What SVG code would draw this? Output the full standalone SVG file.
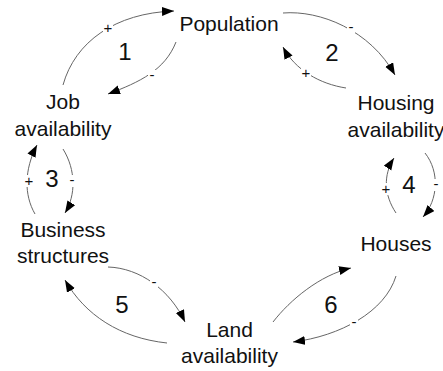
<svg xmlns="http://www.w3.org/2000/svg" width="443" height="371" viewBox="0 0 443 371">
<style>
.n{font-family:"Liberation Sans",Arial,sans-serif;font-size:21px;fill:#111;text-anchor:middle}
.num{font-family:"Liberation Sans",Arial,sans-serif;font-size:24px;fill:#111;text-anchor:middle}
.s{font-family:"Liberation Sans",Arial,sans-serif;font-size:15px;fill:#111;text-anchor:middle}
.bg{fill:#fff}
.c{fill:none;stroke:#666;stroke-width:1}
</style>
<defs>
<marker id="ah" markerUnits="userSpaceOnUse" markerWidth="13" markerHeight="10" refX="12" refY="4.5" orient="auto">
<path d="M0,0 L12,4.5 L0,9 z" fill="#000"/>
</marker>
</defs>
<rect width="443" height="371" fill="#fff"/>
<g id="connectors">
<path class="c" d="M63,85 C75,42 115,13 174,11" marker-end="url(#ah)"/>
<path class="c" d="M176,42 C165,70 140,82 108,94" marker-end="url(#ah)"/>
<path class="c" d="M283,13 C320,10 370,30 395,75" marker-end="url(#ah)"/>
<path class="c" d="M346,88 C320,84 295,70 283,47" marker-end="url(#ah)"/>
<path class="c" d="M35,214 C24,195 24,170 37,145" marker-end="url(#ah)"/>
<path class="c" d="M63,149 C76,170 76,195 65,213" marker-end="url(#ah)"/>
<path class="c" d="M396,213 C384,195 383,175 394,158" marker-end="url(#ah)"/>
<path class="c" d="M425,153 C440,172 438,200 423,217" marker-end="url(#ah)"/>
<path class="c" d="M108,267 C140,268 170,290 185,322" marker-end="url(#ah)"/>
<path class="c" d="M167,343 C120,338 85,315 65,280" marker-end="url(#ah)"/>
<path class="c" d="M273,322 C290,300 320,275 351,268" marker-end="url(#ah)"/>
<path class="c" d="M396,276 C385,312 340,336 293,342" marker-end="url(#ah)"/>
</g>
<g id="signs">
<rect class="bg" x="103" y="22" width="10" height="12"/><text class="s" x="108" y="33">+</text>
<rect class="bg" x="148" y="70" width="8" height="12"/><text class="s" x="152" y="80">-</text>
<rect class="bg" x="347" y="22" width="8" height="12"/><text class="s" x="351" y="32">-</text>
<rect class="bg" x="301" y="67" width="10" height="12"/><text class="s" x="306" y="78">+</text>
<rect class="bg" x="24" y="175" width="10" height="12"/><text class="s" x="29" y="186">+</text>
<rect class="bg" x="68" y="175" width="8" height="12"/><text class="s" x="72" y="185">-</text>
<rect class="bg" x="381" y="183" width="10" height="12"/><text class="s" x="386" y="194">+</text>
<rect class="bg" x="432" y="179" width="8" height="12"/><text class="s" x="436" y="189">-</text>
<rect class="bg" x="150" y="277" width="8" height="12"/><text class="s" x="154" y="287">-</text>
<rect class="bg" x="350" y="317" width="8" height="12"/><text class="s" x="354" y="327">-</text>
</g>
<g id="loop-numbers">
<text class="num" x="125" y="60">1</text>
<text class="num" x="332" y="61">2</text>
<text class="num" x="52" y="187">3</text>
<text class="num" x="409" y="193">4</text>
<text class="num" x="122" y="313">5</text>
<text class="num" x="331" y="313">6</text>
</g>
<g id="population"><text class="n" x="229" y="31">Population</text></g>
<g id="job-availability"><text class="n" x="63" y="109">Job</text><text class="n" x="63" y="136">availability</text></g>
<g id="housing-availability"><text class="n" x="396" y="110">Housing</text><text class="n" x="396" y="137">availability</text></g>
<g id="business-structures"><text class="n" x="63" y="237">Business</text><text class="n" x="63" y="263">structures</text></g>
<g id="houses"><text class="n" x="396" y="251">Houses</text></g>
<g id="land-availability"><text class="n" x="229.5" y="337">Land</text><text class="n" x="229.5" y="363">availability</text></g>
</svg>
